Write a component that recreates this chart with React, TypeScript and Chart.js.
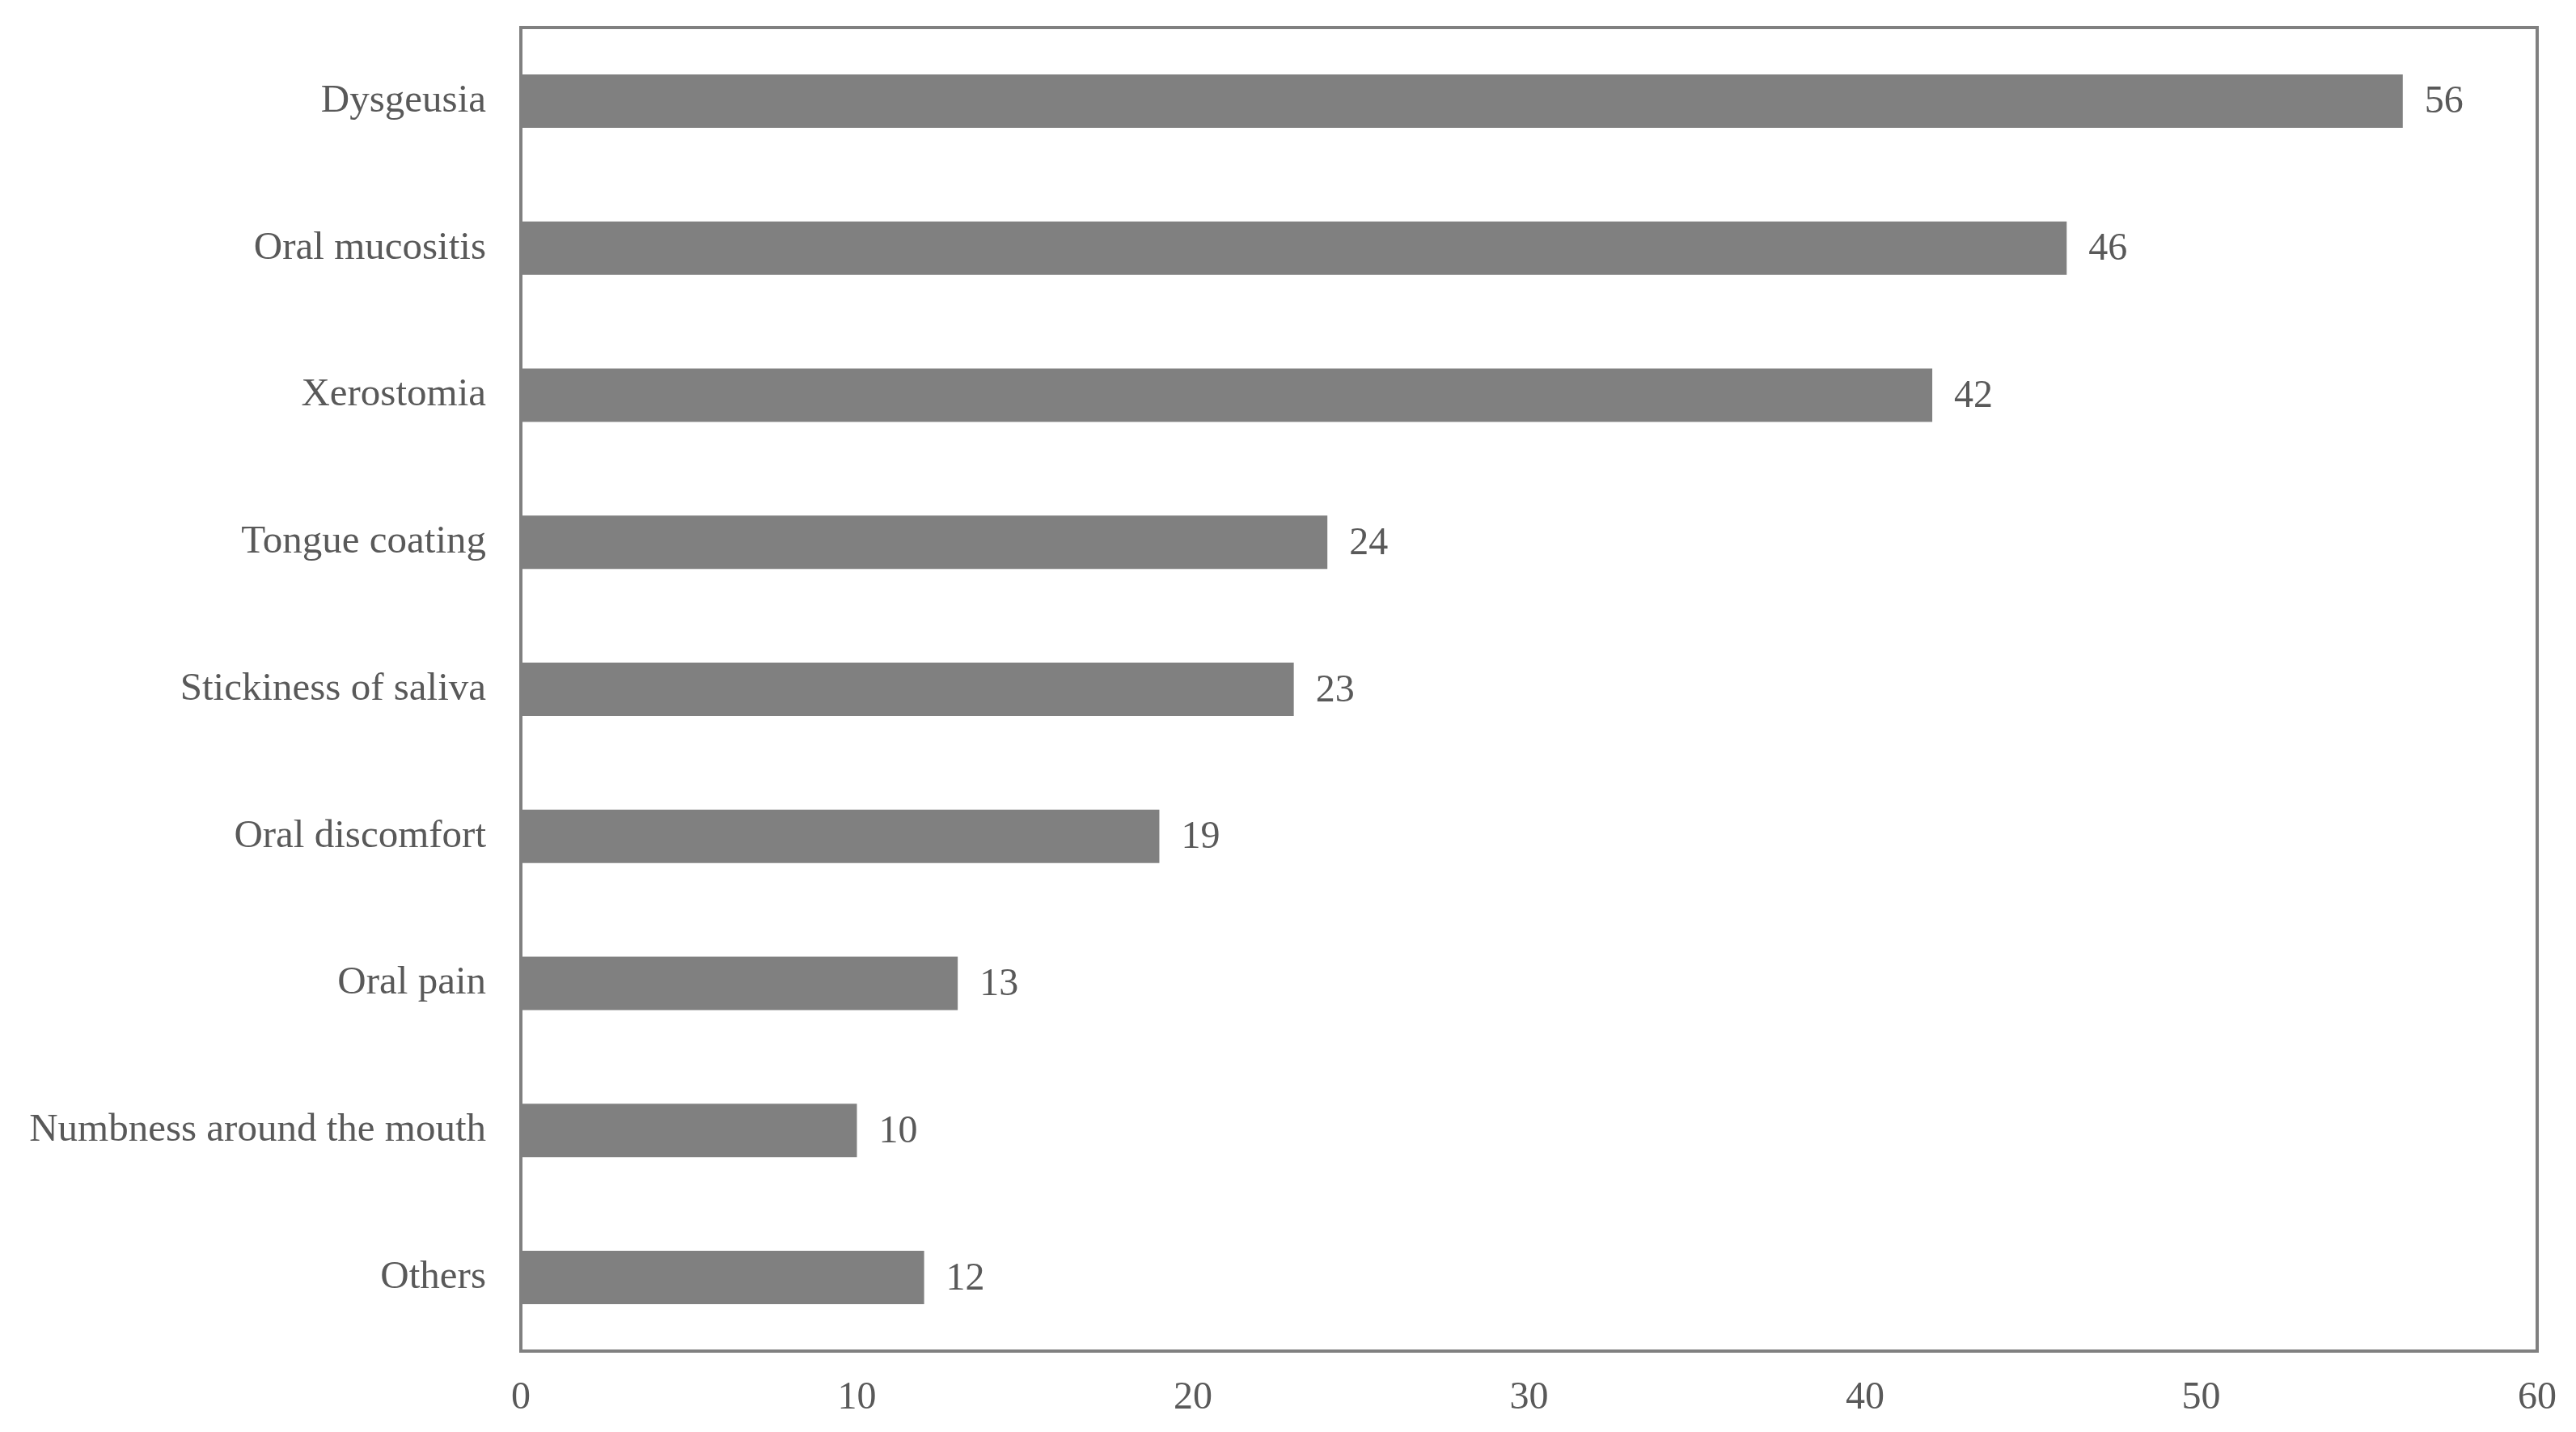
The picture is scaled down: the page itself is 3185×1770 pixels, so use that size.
import React, { useEffect, useRef } from "react";
import { Chart, registerables } from "chart.js";

Chart.register(...registerables);

const categories = [
  "Dysgeusia",
  "Oral mucositis",
  "Xerostomia",
  "Tongue coating",
  "Stickiness of saliva",
  "Oral discomfort",
  "Oral pain",
  "Numbness around the mouth",
  "Others",
];
const counts = [56, 46, 42, 24, 23, 19, 13, 10, 12];
const xTicks = [0, 10, 20, 30, 40, 50, 60];

const FONT = "'Liberation Serif', 'Times New Roman', serif";
const TEXT = "#595959";
const GREY = "#808080";

const boxPlugin = {
  id: "boxPlugin",
  afterDraw(chart: any) {
    const { ctx, chartArea } = chart;
    ctx.save();
    ctx.strokeStyle = GREY;
    ctx.lineWidth = 4;
    ctx.strokeRect(chartArea.left, chartArea.top, chartArea.right - chartArea.left, chartArea.bottom - chartArea.top);
    ctx.restore();
  },
};

const valueLabels = {
  id: "valueLabels",
  afterDatasetsDraw(chart: any) {
    const { ctx } = chart;
    const meta = chart.getDatasetMeta(0);
    ctx.save();
    ctx.fillStyle = TEXT;
    ctx.font = `48px ${FONT}`;
    ctx.textAlign = "left";
    ctx.textBaseline = "middle";
    meta.data.forEach((bar: any, i: number) => {
      ctx.fillText(String(counts[i]), bar.x + 27, bar.y + 2);
    });
    ctx.restore();
  },
};

export default function App() {
  const ref = useRef<HTMLCanvasElement>(null);
  useEffect(() => {
    document.body.style.margin = "0";
    const chart = new Chart(ref.current!, {
      type: "bar",
      data: {
        labels: categories,
        datasets: [
          {
            data: counts,
            backgroundColor: GREY,
            borderWidth: 0,
            categoryPercentage: 1,
            barPercentage: 0.363,
          },
        ],
      },
      options: {
        indexAxis: "y",
        animation: false,
        responsive: false,
        layout: { padding: { top: 34, right: 48, left: 0, bottom: 0 } },
        plugins: { legend: { display: false }, tooltip: { enabled: false } },
        scales: {
          x: {
            min: 0,
            max: 60,
            afterBuildTicks(axis: any) {
              axis.ticks = xTicks.map((v) => ({ value: v }));
            },
            afterFit(axis: any) {
              axis.height = 100;
              axis.paddingLeft = 0;
              axis.paddingRight = 0;
            },
            grid: { display: false, drawTicks: false },
            border: { display: false },
            ticks: {
              color: TEXT,
              font: { family: FONT, size: 48 },
              padding: 30,
              maxRotation: 0,
            },
          },
          y: {
            afterFit(axis: any) {
              axis.width = 644;
              axis.paddingTop = 0;
              axis.paddingBottom = 0;
            },
            grid: { display: false, drawTicks: false },
            border: { display: false },
            ticks: {
              color: TEXT,
              font: { family: FONT, size: 49 },
              padding: 43,
            },
          },
        },
      },
      plugins: [boxPlugin, valueLabels],
    });
    return () => chart.destroy();
  }, []);
  return (
    <div style={{ width: 3185, height: 1770, background: "#fff" }}>
      <canvas ref={ref} width={3185} height={1770} style={{ display: "block" }} />
    </div>
  );
}
